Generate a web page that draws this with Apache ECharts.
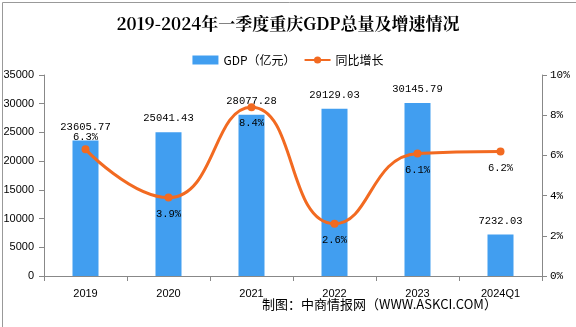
<!DOCTYPE html>
<html><head><meta charset="utf-8">
<script src="https://cdn.jsdelivr.net/npm/echarts@6/dist/echarts.min.js"></script>
<style>html,body{margin:0;padding:0;background:#fff}#c{width:576px;height:327px}</style>
</head><body><div id="c"></div>
<script>
const categories = ['2019','2020','2021','2022','2023','2024Q1'];
const gdpValues = [23605.77, 25041.43, 28077.28, 29129.03, 30145.79, 7232.03];
const growthValues = [6.3, 3.9, 8.4, 2.6, 6.1, 6.2];
const growthLabelPos = ['top','bottom','bottom','bottom','bottom','bottom'];
const leftTicks = {min:0, max:35000, interval:5000};
const rightTicks = {min:0, max:10, interval:2};

const chart = echarts.init(document.getElementById('c'));
const mono = 'Liberation Mono, DejaVu Sans Mono, monospace';
chart.setOption({
  animation:false,
  title:{text:'2019-2024年一季度重庆GDP总量及增速情况', left:'center', top:10,
    textStyle:{fontFamily:'Noto Serif CJK SC, Noto Sans CJK SC, serif', fontWeight:'bold', fontSize:17, color:'#000'}},
  legend:{top:49, left:'center', itemWidth:26, itemHeight:9, itemGap:8,
    textStyle:{fontFamily:'Noto Sans CJK SC', fontSize:12, color:'#000'},
    data:[{name:'GDP（亿元）', icon:'rect'}, {name:'同比增长'}]},
  grid:{left:44, right:34, top:75, bottom:51},
  xAxis:{type:'category', data:categories,
    axisLine:{lineStyle:{color:'#888'}}, axisTick:{show:true, length:5, lineStyle:{color:'#888'}},
    axisLabel:{color:'#000', fontFamily:'Liberation Sans', fontSize:11, margin:12}},
  yAxis:[
    {type:'value', min:leftTicks.min, max:leftTicks.max, interval:leftTicks.interval, splitLine:{show:false},
      axisLine:{show:true, lineStyle:{color:'#888'}}, axisTick:{show:true, length:5, lineStyle:{color:'#888'}},
      axisLabel:{color:'#000', fontFamily:'Liberation Sans', fontSize:11, margin:10, formatter:v=>String(v)}},
    {type:'value', min:rightTicks.min, max:rightTicks.max, interval:rightTicks.interval, splitLine:{show:false},
      axisLine:{show:true, lineStyle:{color:'#888'}}, axisTick:{show:true, length:5, lineStyle:{color:'#888'}},
      axisLabel:{color:'#000', fontFamily:mono, fontSize:11, margin:8, formatter:'{value}%'}}
  ],
  series:[
    {name:'GDP（亿元）', type:'bar', data:gdpValues, barWidth:26, itemStyle:{color:'#419EF0'},
      label:{show:true, position:'top', distance:8, color:'#000', fontFamily:mono, fontSize:10.5,
        formatter:p=>p.value.toFixed(2)}},
    {name:'同比增长', type:'line', yAxisIndex:1, smooth:0.5, symbol:'circle', symbolSize:8, z:3,
      data:growthValues.map((v,i)=>({value:v, label:{position:growthLabelPos[i], distance:growthLabelPos[i]==='top'?3:7}})),
      lineStyle:{color:'#F26A21', width:3}, itemStyle:{color:'#F26A21'},
      label:{show:true, color:'#000', fontFamily:mono, fontSize:10.5, formatter:p=>p.value.toFixed(1)+'%'}}
  ],
  graphic:[
    {type:'rect', left:0, top:0, shape:{width:575, height:326}, style:{fill:'none', stroke:'#999', lineWidth:1}, silent:true},
    {type:'text', left:262, top:298, style:{text:'制图：中商情报网（WWW.ASKCI.COM）', fontFamily:'Noto Sans CJK SC', fontSize:13, fill:'#000'}}
  ]
});
</script></body></html>
